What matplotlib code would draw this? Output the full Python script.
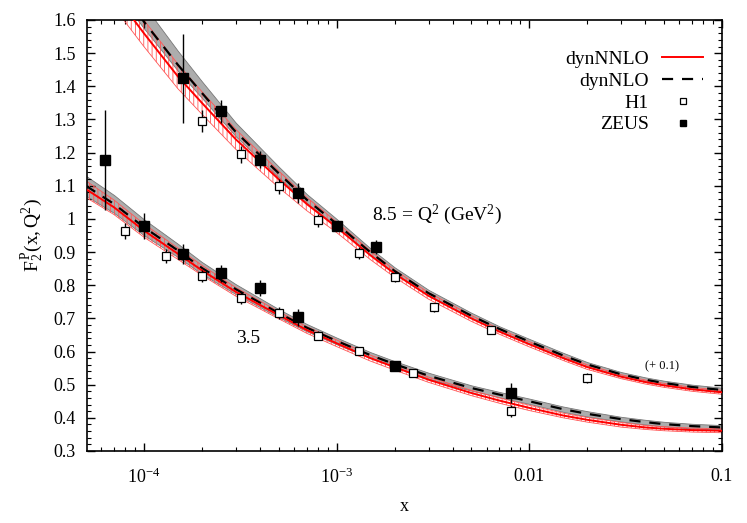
import matplotlib
matplotlib.use("Agg")
import matplotlib.pyplot as plt
from matplotlib.lines import Line2D
from matplotlib.ticker import FixedLocator, FixedFormatter, AutoMinorLocator, LogLocator, NullFormatter, FormatStrFormatter

plt.rcParams['font.family'] = ['Liberation Serif', 'DejaVu Serif']
plt.rcParams['mathtext.fontset'] = 'custom'
plt.rcParams['mathtext.rm'] = 'Liberation Serif'
plt.rcParams['mathtext.it'] = 'Liberation Serif:italic'
plt.rcParams['hatch.linewidth'] = 0.6

# theory curves
x_th = [5e-5, 7e-5, 1e-4, 1.5e-4, 2e-4, 3e-4, 5e-4, 7e-4, 1e-3, 1.5e-3, 2e-3, 3e-3,
        5e-3, 7e-3, 1e-2, 1.5e-2, 2e-2, 3e-2, 4e-2, 5e-2, 7e-2, 1e-1]

# Q2 = 8.5 (+0.1)
nnlo_hi = [1.80, 1.68, 1.56, 1.43, 1.35, 1.24, 1.12, 1.045, 0.975, 0.89, 0.835, 0.768,
           0.70, 0.66, 0.622, 0.58, 0.553, 0.524, 0.508, 0.498, 0.486, 0.477]
nnlo_hi_err = [0.045, 0.042, 0.04, 0.037, 0.034, 0.03, 0.025, 0.02, 0.016, 0.013, 0.011, 0.01,
               0.009, 0.008, 0.008, 0.007, 0.007, 0.006, 0.006, 0.006, 0.006, 0.006]
nlo_hi = [1.85, 1.72, 1.595, 1.465, 1.38, 1.262, 1.138, 1.058, 0.985, 0.899, 0.843, 0.776,
          0.708, 0.668, 0.63, 0.588, 0.561, 0.531, 0.515, 0.505, 0.493, 0.484]
nlo_hi_lo = [0.03, 0.025, 0.02, 0.018, 0.015, 0.013, 0.012, 0.01, 0.009, 0.008, 0.008, 0.007,
             0.007, 0.007, 0.006, 0.006, 0.006, 0.006, 0.006, 0.006, 0.006, 0.006]
nlo_hi_up = [0.07, 0.06, 0.05, 0.042, 0.035, 0.028, 0.02, 0.017, 0.015, 0.012, 0.011, 0.01,
             0.009, 0.008, 0.008, 0.008, 0.007, 0.007, 0.007, 0.007, 0.007, 0.007]

# Q2 = 3.5
nnlo_lo = [1.09, 1.035, 0.965, 0.895, 0.845, 0.78, 0.71, 0.665, 0.625, 0.58, 0.553, 0.515,
           0.475, 0.452, 0.43, 0.407, 0.394, 0.379, 0.371, 0.367, 0.363, 0.361]
nnlo_lo_err = [0.025, 0.022, 0.02, 0.017, 0.015, 0.013, 0.011, 0.01, 0.01, 0.009, 0.009, 0.008,
               0.008, 0.008, 0.008, 0.007, 0.007, 0.007, 0.006, 0.006, 0.006, 0.006]
nlo_lo = [1.10, 1.045, 0.975, 0.905, 0.852, 0.788, 0.716, 0.672, 0.632, 0.589, 0.562, 0.527,
          0.49, 0.47, 0.45, 0.426, 0.412, 0.396, 0.387, 0.381, 0.375, 0.371]
nlo_lo_err = [0.03, 0.027, 0.024, 0.02, 0.018, 0.015, 0.012, 0.011, 0.01, 0.009, 0.009, 0.009,
              0.008, 0.008, 0.008, 0.008, 0.008, 0.007, 0.007, 0.007, 0.007, 0.007]

# H1 data
h1_x_hi = [2e-4, 3.2e-4, 5e-4, 8e-4, 1.3e-3, 2e-3, 3.2e-3, 6.3e-3, 2e-2]
h1_y_hi = [1.295, 1.195, 1.098, 0.996, 0.898, 0.826, 0.733, 0.666, 0.520]
h1_e_hi = [0.034, 0.025, 0.022, 0.02, 0.018, 0.016, 0.014, 0.012, 0.014]
h1_x_lo = [8e-5, 1.3e-4, 2e-4, 3.2e-4, 5e-4, 8e-4, 1.3e-3, 2.5e-3, 8e-3]
h1_y_lo = [0.964, 0.888, 0.828, 0.762, 0.717, 0.648, 0.602, 0.535, 0.420]
h1_e_lo = [0.025, 0.02, 0.018, 0.018, 0.018, 0.014, 0.012, 0.008, 0.018]

# ZEUS data
zeus_x_hi = [1.6e-4, 2.5e-4, 4e-4, 6.3e-4, 1e-3, 1.6e-3]
zeus_y_hi = [1.424, 1.325, 1.179, 1.078, 0.979, 0.915]
zeus_e_hi = [0.135, 0.035, 0.025, 0.03, 0.015, 0.02]
zeus_x_lo = [6.3e-5, 1e-4, 1.6e-4, 2.5e-4, 4e-4, 6.3e-4, 2e-3, 8e-3]
zeus_y_lo = [1.178, 0.979, 0.893, 0.836, 0.791, 0.703, 0.556, 0.474]
zeus_e_lo = [0.15, 0.04, 0.03, 0.025, 0.025, 0.025, 0.01, 0.03]

fig = plt.figure(figsize=(7.47, 5.23), dpi=100)
ax = fig.add_axes([0.1165, 0.1377, 0.85, 0.8241])

for nlo, dlo, dhi in [(nlo_hi, nlo_hi_lo, nlo_hi_up), (nlo_lo, nlo_lo_err, nlo_lo_err)]:
    lo = [a - b for a, b in zip(nlo, dlo)]
    hi = [a + b for a, b in zip(nlo, dhi)]
    ax.fill_between(x_th, lo, hi, facecolor='#adadad', edgecolor='#777777', lw=0.6, zorder=1)

for nnlo, d in [(nnlo_hi, nnlo_hi_err), (nnlo_lo, nnlo_lo_err)]:
    lo = [a - b for a, b in zip(nnlo, d)]
    hi = [a + b for a, b in zip(nnlo, d)]
    ax.fill_between(x_th, lo, hi, facecolor='none', edgecolor='#ff5555', hatch='||||', lw=0.6, zorder=2)

ax.plot(x_th, nlo_hi, color='black', ls=(0, (5, 4)), lw=1.6, zorder=3)
ax.plot(x_th, nlo_lo, color='black', ls=(0, (5, 4)), lw=1.6, zorder=3)
ax.plot(x_th, nnlo_hi, color='red', lw=1.4, zorder=4)
ax.plot(x_th, nnlo_lo, color='red', lw=1.4, zorder=4)

ax.errorbar(h1_x_hi + h1_x_lo, h1_y_hi + h1_y_lo, yerr=h1_e_hi + h1_e_lo, fmt='s',
            ms=5.5, mfc='white', mec='black', mew=0.9, ecolor='black', elinewidth=1,
            capsize=0, zorder=5)
ax.errorbar(zeus_x_hi + zeus_x_lo, zeus_y_hi + zeus_y_lo, yerr=zeus_e_hi + zeus_e_lo, fmt='s',
            ms=6.5, mfc='black', mec='black', ecolor='black', elinewidth=1,
            capsize=0, zorder=5)

ax.set_xscale('log')
ax.set_xlim(5.07e-5, 0.1)
ax.set_ylim(0.3, 1.6)

ax.xaxis.set_major_locator(FixedLocator([1e-4, 1e-3, 1e-2, 1e-1]))
ax.xaxis.set_major_formatter(FixedFormatter([r'10$^{\mathregular{-4}}$', r'10$^{\mathregular{-3}}$', '0.01', '0.1']))
ax.xaxis.set_minor_locator(LogLocator(base=10, subs=range(2, 10)))
ax.xaxis.set_minor_formatter(NullFormatter())
ax.yaxis.set_major_locator(FixedLocator([0.3 + 0.1 * i for i in range(14)]))
ax.yaxis.set_major_formatter(FormatStrFormatter('%g'))
ax.yaxis.set_minor_locator(AutoMinorLocator(5))
ax.tick_params(which='both', direction='in', top=True, right=True, labelsize=13)
ax.tick_params(which='major', length=6, width=1, pad=8)
ax.tick_params(which='minor', length=3, width=0.8)
ax.tick_params(axis='x', pad=12)
for s in ax.spines.values():
    s.set_linewidth(1.2)

ax.set_xlabel('x', fontsize=13, labelpad=8)
ax.set_ylabel(r'$\mathregular{F_2^{\,P}(x,Q^2)}$', fontsize=14, labelpad=6)

ax.text(1.52e-3, 1.012, r'8.5 = Q$^{\mathregular{2}}$ (GeV$^{\mathregular{2}}$)', fontsize=14, va='center', ha='left')
ax.text(3.47e-4, 0.64, '3.5', fontsize=14, va='center', ha='center')
ax.text(0.049, 0.554, '(+ 0.1)', fontsize=9, va='center', ha='center')

handles = [
    Line2D([], [], color='red', lw=1.4),
    Line2D([], [], color='black', ls=(0, (5, 4)), lw=1.6),
    Line2D([], [], ls='none', marker='s', ms=4.5, mfc='white', mec='black', mew=0.9),
    Line2D([], [], ls='none', marker='s', ms=5, mfc='black', mec='black'),
]
ax.legend(handles, ['dynNNLO', 'dynNLO', 'H1', 'ZEUS'], loc='upper right',
          bbox_to_anchor=(0.97, 0.93), frameon=False, markerfirst=False, fontsize=14,
          handlelength=2.1, labelspacing=0.22, handletextpad=0.7, borderpad=0, borderaxespad=0)

fig.savefig('out.png', dpi=100)
